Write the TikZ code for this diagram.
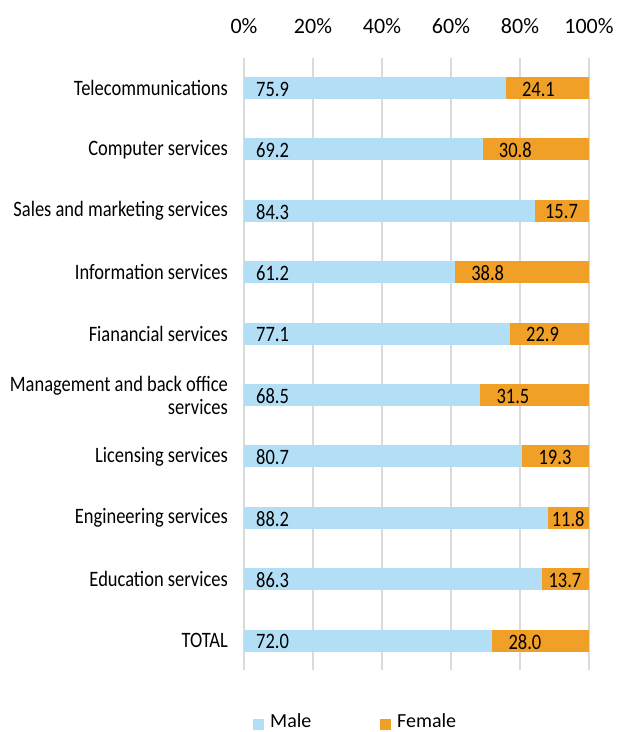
\documentclass[tikz,border=0pt]{standalone}
\usepackage{fontspec}
\setmainfont{Carlito}
\newfontfamily\condfont{Carlito}[FakeStretch=0.84]
\definecolor{malecol}{HTML}{B3DFF6}
\definecolor{femalecol}{HTML}{F0A026}
\definecolor{gridcol}{HTML}{DADADA}
\tikzset{
  catlabel/.style={anchor=east, align=right, font=\condfont\fontsize{22}{23}\selectfont, inner sep=0pt},
  vallabel/.style={anchor=west, font=\condfont\fontsize{22}{22}\selectfont, inner sep=0pt},
  axislabel/.style={font=\fontsize{22}{22}\selectfont, inner sep=0pt},
  legendlabel/.style={anchor=west, font=\fontsize{20}{20}\selectfont, inner sep=0pt}
}
\begin{document}
\begin{tikzpicture}[x=1pt, y=-1pt]
\useasboundingbox (0,0) rectangle (617,732);

% grid and axis
\foreach \p [count=\i from 0] in {0\%,20\%,40\%,60\%,80\%,100\%} {
  \draw [gridcol, line width=1.2pt] (244+69*\i,58) -- (244+69*\i,670);
  \node [axislabel] (ax\i) at (244+69*\i,26) {\p};
}

% bars
\foreach \lab/\m/\f [count=\i from 0] in {
  Telecommunications/75.9/24.1,
  Computer services/69.2/30.8,
  Sales and marketing services/84.3/15.7,
  Information services/61.2/38.8,
  Fianancial services/77.1/22.9,
  {Management and back office\\services}/68.5/31.5,
  Licensing services/80.7/19.3,
  Engineering services/88.2/11.8,
  Education services/86.3/13.7,
  TOTAL/72.0/28.0} {
  \pgfmathsetmacro\yc{88+61.4*\i}
  \pgfmathsetmacro\xm{244+3.45*\m}
  \pgfmathsetmacro\off{min(16,(589-\xm-34)/2)}
  \fill [malecol] (244,\yc-11) rectangle (\xm,\yc+11);
  \fill [femalecol] (\xm,\yc-11) rectangle (589,\yc+11);
  \node [catlabel] (cat\i) at (228,\yc) {\lab};
  \node [vallabel] (m\i) at (256,\yc+1) {\m};
  \node [vallabel] (f\i) at (\xm+\off,\yc+1) {\f};
}

% legend
\fill [malecol] (253,719) rectangle (264,730);
\node [legendlabel] (male) at (270,721) {Male};
\fill [femalecol] (380,719) rectangle (391,730);
\node [legendlabel] (female) at (397,721) {Female};

\end{tikzpicture}
\end{document}
